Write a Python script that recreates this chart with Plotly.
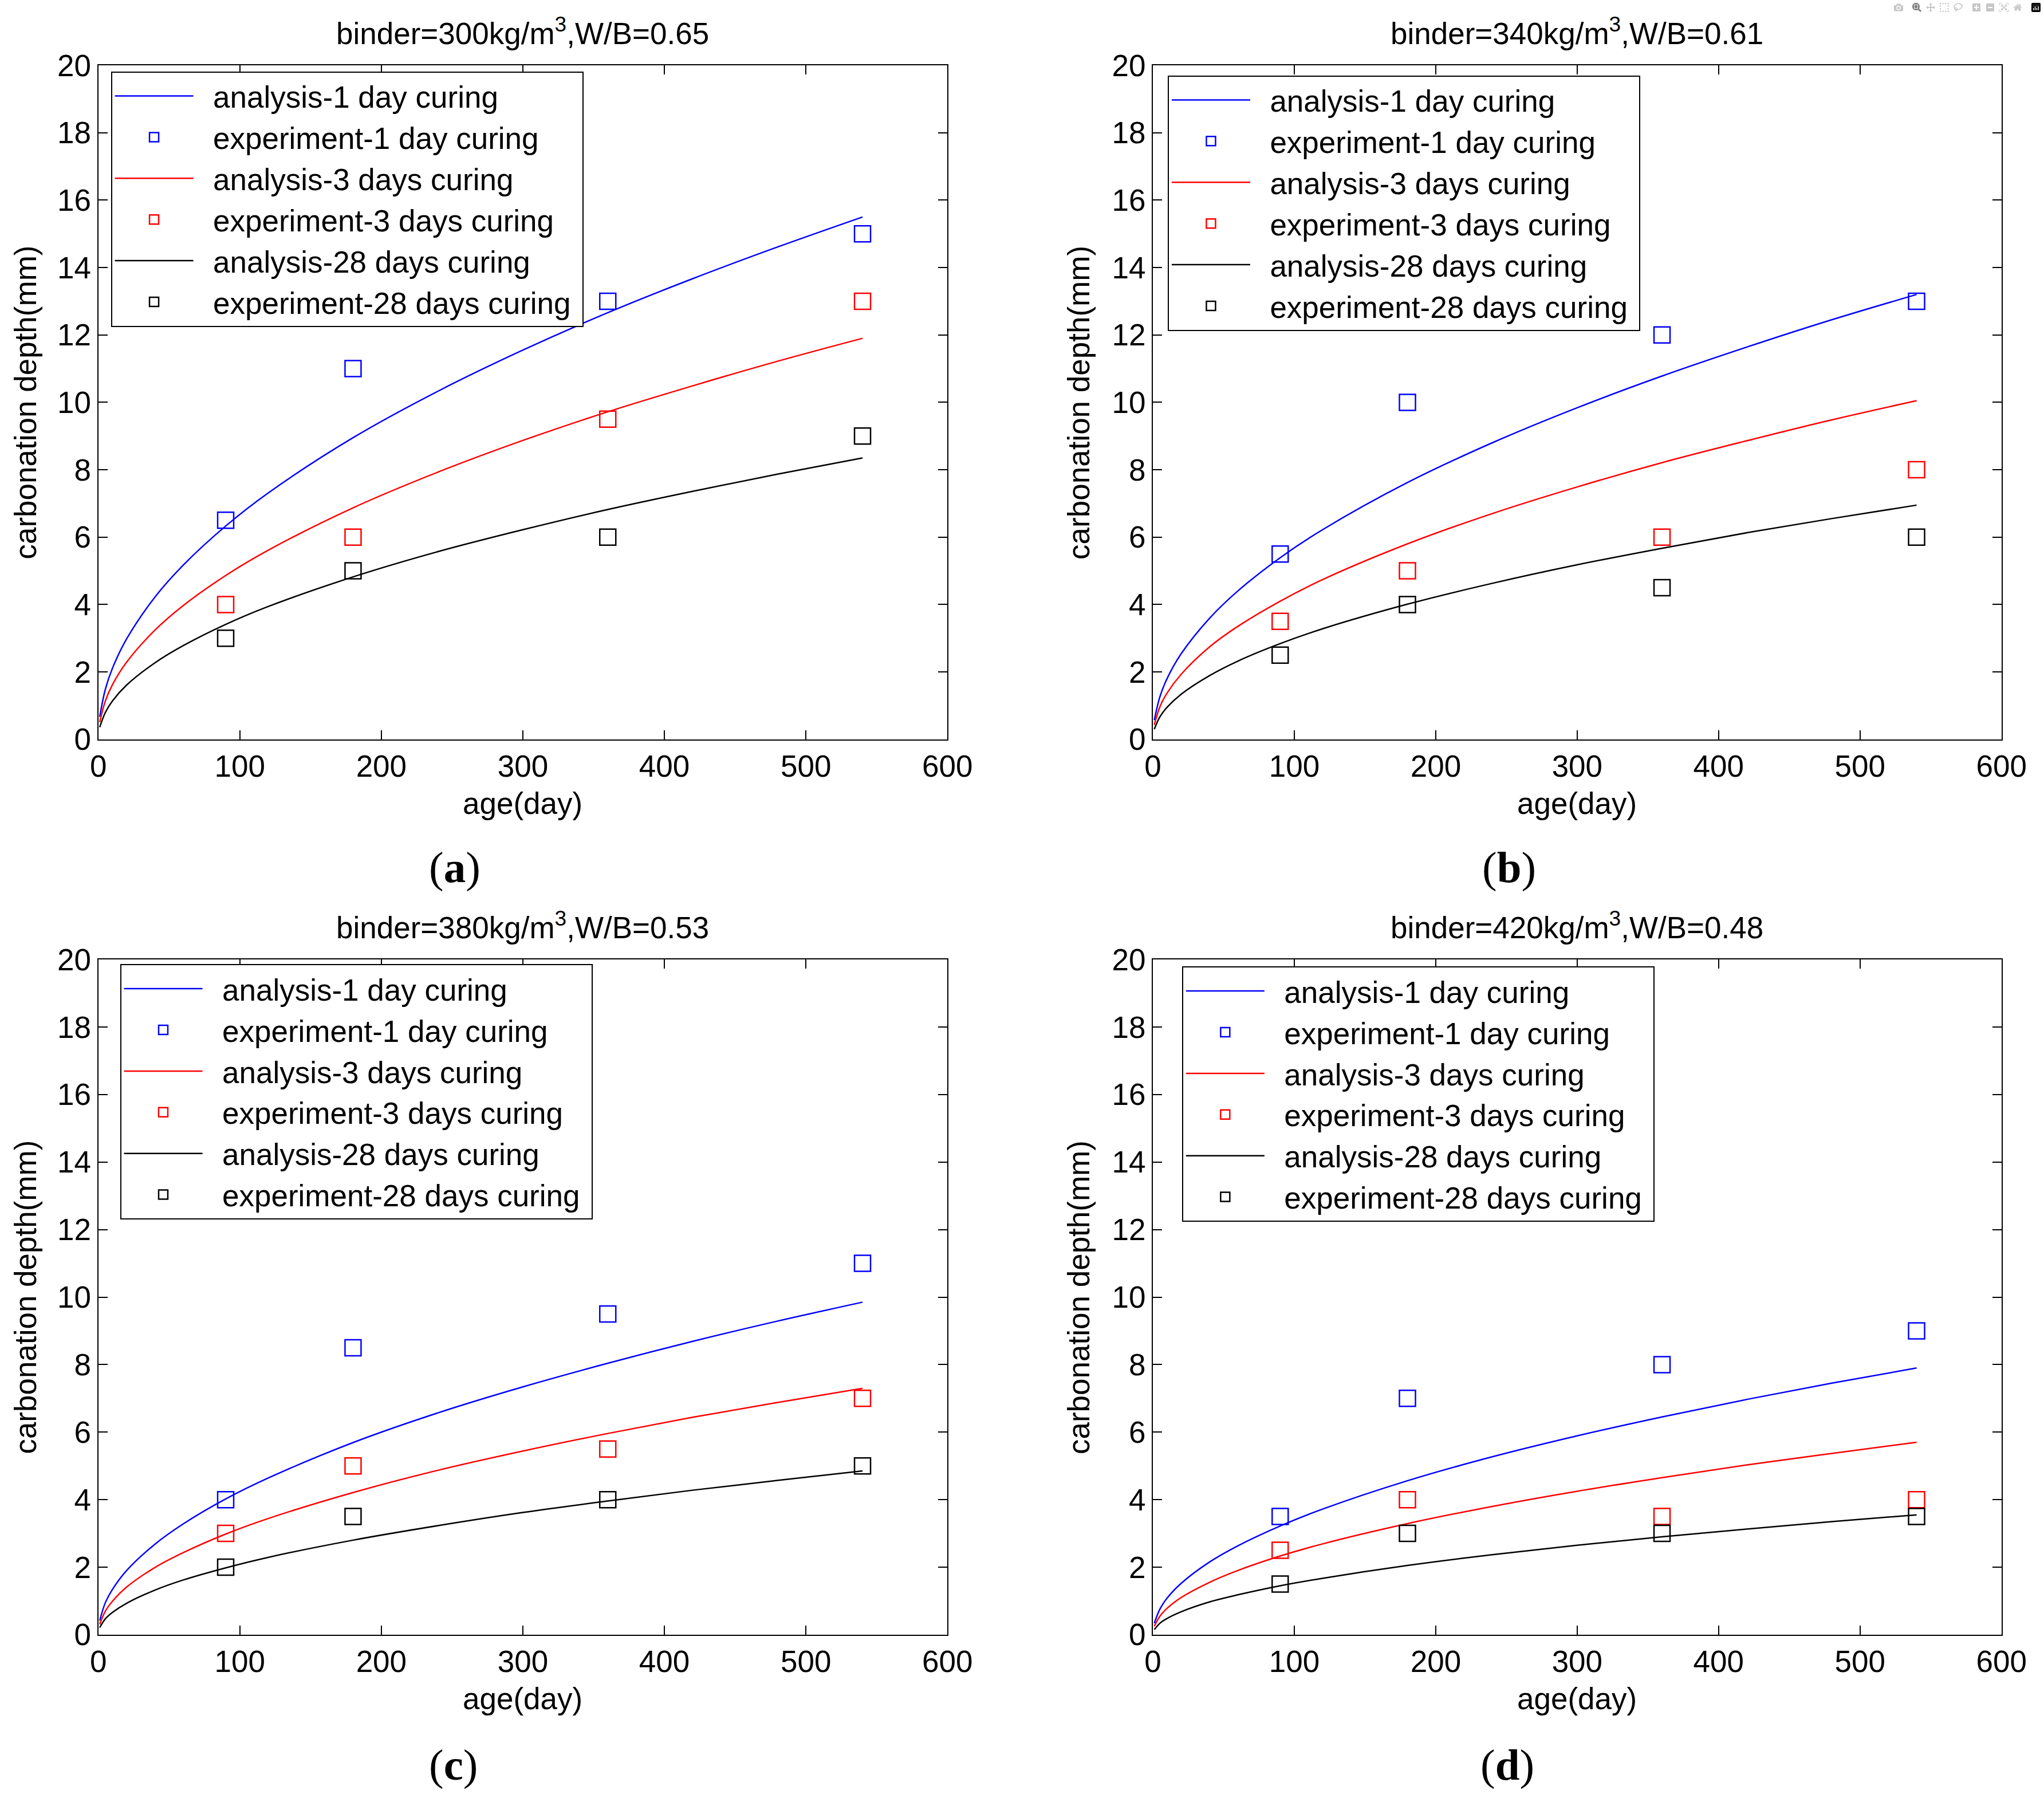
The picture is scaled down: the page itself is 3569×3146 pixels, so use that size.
import plotly.graph_objects as go

# ---------------- data ----------------
age_curve = [1, 5, 10, 20, 40, 60, 90, 120, 180, 240, 300, 360, 420, 480, 540]
age_exp = [90, 180, 360, 540]

titles = [
    "binder=300kg/m<sup>3</sup>,W/B=0.65",
    "binder=340kg/m<sup>3</sup>,W/B=0.61",
    "binder=380kg/m<sup>3</sup>,W/B=0.53",
    "binder=420kg/m<sup>3</sup>,W/B=0.48",
]
panel_labels = ["a", "b", "c", "d"]
series_names = [
    "analysis-1 day curing", "experiment-1 day curing",
    "analysis-3 days curing", "experiment-3 days curing",
    "analysis-28 days curing", "experiment-28 days curing",
]

# panel (a)
a_ana_1 = [0.67, 1.49, 2.11, 2.98, 4.22, 5.17, 6.33, 7.31, 8.95, 10.33, 11.55, 12.66, 13.67, 14.61, 15.5]
a_ana_3 = [0.51, 1.14, 1.62, 2.29, 3.24, 3.97, 4.86, 5.61, 6.87, 7.93, 8.87, 9.72, 10.49, 11.22, 11.9]
a_ana_28 = [0.36, 0.80, 1.14, 1.61, 2.27, 2.78, 3.41, 3.94, 4.82, 5.57, 6.22, 6.82, 7.36, 7.87, 8.35]
a_exp_1 = [6.5, 11, 13, 15]
a_exp_3 = [4, 6, 9.5, 13]
a_exp_28 = [3, 5, 6, 9]

# panel (b)
b_ana_1 = [0.57, 1.27, 1.80, 2.54, 3.59, 4.40, 5.39, 6.22, 7.62, 8.80, 9.84, 10.78, 11.64, 12.45, 13.2]
b_ana_3 = [0.43, 0.97, 1.37, 1.93, 2.74, 3.35, 4.10, 4.74, 5.80, 6.70, 7.49, 8.21, 8.86, 9.48, 10.05]
b_ana_28 = [0.30, 0.67, 0.95, 1.34, 1.89, 2.32, 2.84, 3.28, 4.01, 4.63, 5.18, 5.67, 6.13, 6.55, 6.95]
b_exp_1 = [5.5, 10, 12, 13]
b_exp_3 = [3.5, 5, 6, 8]
b_exp_28 = [2.5, 4, 4.5, 6]

# panel (c)
c_ana_1 = [0.42, 0.95, 1.34, 1.90, 2.68, 3.28, 4.02, 4.64, 5.69, 6.57, 7.34, 8.04, 8.69, 9.29, 9.85]
c_ana_3 = [0.31, 0.70, 0.99, 1.41, 1.99, 2.43, 2.98, 3.44, 4.21, 4.87, 5.44, 5.96, 6.44, 6.88, 7.3]
c_ana_28 = [0.21, 0.47, 0.66, 0.93, 1.32, 1.62, 1.98, 2.29, 2.80, 3.23, 3.62, 3.96, 4.28, 4.57, 4.85]
c_exp_1 = [4, 8.5, 9.5, 11]
c_exp_3 = [3, 5, 5.5, 7]
c_exp_28 = [2, 3.5, 4, 5]

# panel (d)
d_ana_1 = [0.34, 0.76, 1.08, 1.52, 2.15, 2.63, 3.22, 3.72, 4.56, 5.27, 5.89, 6.45, 6.97, 7.45, 7.9]
d_ana_3 = [0.25, 0.55, 0.78, 1.10, 1.55, 1.90, 2.33, 2.69, 3.29, 3.80, 4.25, 4.65, 5.03, 5.37, 5.7]
d_ana_28 = [0.15, 0.34, 0.48, 0.68, 0.97, 1.18, 1.45, 1.67, 2.05, 2.37, 2.65, 2.90, 3.13, 3.35, 3.55]
d_exp_1 = [3.5, 7, 8, 9]
d_exp_3 = [2.5, 4, 3.5, 4]
d_exp_28 = [1.5, 3, 3, 3.5]

x_ticks = [0, 100, 200, 300, 400, 500, 600]
y_ticks = [0, 2, 4, 6, 8, 10, 12, 14, 16, 18, 20]

# ---------------- layout geometry ----------------
W, H = 3569, 3146
FONT = "Liberation Sans, Arial, Helvetica, sans-serif"
FS = 53

# calibration of the rendered page (observed offset/scale of the screenshot)
OX, SX = 14.8, 0.987
OY, SY = 29.2, 0.984


def px(x):
    return ((x - OX) / SX) / W


def py(y):
    return 1 - ((y - OY) / SY) / H


cols_px = [(172, 1660), (2020, 3507)]
rows_px = [(114.5, 1294.5), (1680, 2862)]
legend_pos = [(194, 125), (2046, 132), (210, 1688), (2071, 1692)]
label_pos = [(797, 1518), (2644, 1518), (795, 3090), (2641, 3090)]
ytitle_x = [44, 1890]

panels = [
    (a_ana_1, a_exp_1, a_ana_3, a_exp_3, a_ana_28, a_exp_28),
    (b_ana_1, b_exp_1, b_ana_3, b_exp_3, b_ana_28, b_exp_28),
    (c_ana_1, c_exp_1, c_ana_3, c_exp_3, c_ana_28, c_exp_28),
    (d_ana_1, d_exp_1, d_ana_3, d_exp_3, d_ana_28, d_exp_28),
]
colors = ["#0000FF", "#FF0000", "#000000"]
NB = "\u00a0\u00a0"
NBT = "\u00a0"

fig = go.Figure()
annotations = []
layout_extra = {}

for i, series in enumerate(panels):
    r, c = divmod(i, 2)
    sfx = "" if i == 0 else str(i + 1)
    xa, ya = "x" + sfx, "y" + sfx
    lg = "legend" if i == 0 else "legend" + str(i + 1)
    for k in range(3):
        ana = series[2 * k]
        exp = series[2 * k + 1]
        fig.add_trace(go.Scatter(
            x=age_curve, y=ana, mode="lines",
            name=NB + series_names[2 * k] + NBT,
            line=dict(color=colors[k], width=2.5, shape="spline"),
            xaxis=xa, yaxis=ya, legend=lg))
        fig.add_trace(go.Scatter(
            x=age_exp, y=exp, mode="markers",
            name=NB + series_names[2 * k + 1] + NBT,
            marker=dict(symbol="square-open", size=28, color=colors[k],
                        line=dict(width=2.5, color=colors[k])),
            xaxis=xa, yaxis=ya, legend=lg))

    x0, x1 = cols_px[c]
    y0, y1 = rows_px[r]
    axis_common = dict(
        showline=True, linecolor="black", linewidth=2, mirror="ticks",
        ticks="inside", ticklen=16, tickwidth=2, tickcolor="black",
        showgrid=False, zeroline=False,
        tickfont=dict(family=FONT, size=FS, color="black"),
    )
    layout_extra["xaxis" + sfx] = dict(
        axis_common, domain=[px(x0), px(x1)], range=[0, 600],
        tickvals=x_ticks, anchor=ya)
    layout_extra["yaxis" + sfx] = dict(
        axis_common, domain=[py(y1), py(y0)], range=[0, 20],
        tickvals=y_ticks, anchor=xa)

    lx, ly = legend_pos[i]
    layout_extra[lg] = dict(
        x=px(lx), y=py(ly), xanchor="left", yanchor="top",
        bgcolor="white", bordercolor="black", borderwidth=2,
        font=dict(family=FONT, size=FS, color="black"),
        itemwidth=137, tracegroupgap=0, itemsizing="trace",
    )

    xc = (x0 + x1) / 2
    yc = (y0 + y1) / 2
    annotations.append(dict(
        text=titles[i], x=px(xc), y=py(y0 - 60), xref="paper", yref="paper",
        showarrow=False, xanchor="center", yanchor="middle",
        font=dict(family=FONT, size=FS, color="black")))
    annotations.append(dict(
        text="age(day)", x=px(xc), y=py(y1 + 112), xref="paper", yref="paper",
        showarrow=False, xanchor="center", yanchor="middle",
        font=dict(family=FONT, size=FS, color="black")))
    annotations.append(dict(
        text="carbonation depth(mm)", x=px(ytitle_x[c]), y=py(yc),
        xref="paper", yref="paper", showarrow=False, textangle=-90,
        xanchor="center", yanchor="middle",
        font=dict(family=FONT, size=FS, color="black")))
    lbx, lby = label_pos[i]
    annotations.append(dict(
        text="(<b>" + panel_labels[i] + "</b>)", x=px(lbx), y=py(lby),
        xref="paper", yref="paper", showarrow=False,
        xanchor="center", yanchor="middle",
        font=dict(family="Liberation Serif, Times New Roman, serif", size=77,
                  color="black")))

fig.update_layout(
    width=W, height=H,
    margin=dict(l=0, r=0, t=0, b=0),
    paper_bgcolor="white", plot_bgcolor="white",
    showlegend=True,
    annotations=annotations,
    **layout_extra,
)

fig.write_html("out.html", post_script="document.body.style.margin='0';")
